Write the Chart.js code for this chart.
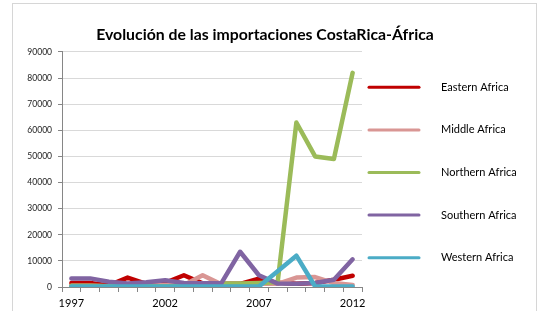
<!DOCTYPE html>
<html>
<head>
<meta charset="utf-8">
<script src="https://cdn.jsdelivr.net/npm/chart.js@4.4.1/dist/chart.umd.min.js"></script>
<style>
  html, body { margin: 0; padding: 0; background: #fff; }
  #wrap { position: relative; width: 544px; height: 311px; overflow: hidden; }
  #frame { position: absolute; left: 12px; top: 3px; width: 523px; height: 330px; border: 1px solid #d6d6d6; }
  #wrap canvas { position: absolute; left: 0; top: 0; }
</style>
</head>
<body>
<div id="wrap">
  <div id="frame"></div>
  <canvas id="chart" width="544" height="311"></canvas>
</div>
<script>
// datos
const years = ['1997', '1998', '1999', '2000', '2001', '2002', '2003', '2004',
               '2005', '2006', '2007', '2008', '2009', '2010', '2011', '2012'];
const easternAfrica  = [1500, 1500, 600, 3600, 1200, 1600, 4500, 1400, 1200, 1200, 3200, 1600, 1200, 1500, 2800, 4300];
const middleAfrica   = [500, 500, 300, 300, 500, 800, 800, 4500, 1000, 1000, 1200, 1200, 3600, 3800, 1500, 800];
const northernAfrica = [500, 500, 300, 300, 300, 300, 300, 300, 1300, 1300, 1500, 1800, 63000, 50000, 49000, 82000];
const southernAfrica = [3300, 3300, 2000, 1300, 1800, 2600, 1500, 1400, 1500, 13500, 4500, 1300, 1200, 1500, 2800, 10600];
const westernAfrica  = [200, 200, 200, 200, 200, 200, 200, 200, 200, 200, 200, 6000, 12000, 200, 200, 200];

const seriesNames = ['Eastern Africa', 'Middle Africa', 'Northern Africa', 'Southern Africa', 'Western Africa'];
const seriesData = [easternAfrica, middleAfrica, northernAfrica, southernAfrica, westernAfrica];
const seriesColors = ['#c00000', '#d99694', '#9bbb59', '#8064a2', '#4bacc6'];

const FONT = 'Lato, "Liberation Sans", sans-serif';

// leyenda a la derecha, como en Excel
const sideLegend = {
    id: 'sideLegend',
    afterDraw(chart) {
        const ctx = chart.ctx;
        const area = chart.chartArea;
        const midY = (area.top + area.bottom) / 2 + 3;
        const step = 42.6;
        const n = chart.data.datasets.length;
        ctx.save();
        ctx.font = '11px ' + FONT;
        ctx.textBaseline = 'middle';
        ctx.fillStyle = '#000';
        chart.data.datasets.forEach((ds, i) => {
            const y = midY + (i - (n - 1) / 2) * step;
            ctx.strokeStyle = ds.borderColor;
            ctx.lineWidth = 3;
            ctx.lineCap = 'round';
            ctx.beginPath();
            ctx.moveTo(area.right + 7, y);
            ctx.lineTo(area.right + 57, y);
            ctx.stroke();
            ctx.fillText(ds.label, area.right + 79, y);
        });
        ctx.restore();
    }
};

const ctx = document.getElementById('chart');
new Chart(ctx, {
    type: 'line',
    data: {
        labels: years,
        datasets: seriesNames.map((name, i) => ({
            label: name,
            data: seriesData[i],
            borderColor: seriesColors[i],
            backgroundColor: seriesColors[i],
            borderWidth: 4.5,
            pointRadius: 0,
            tension: 0,
            borderJoinStyle: 'round',
            borderCapStyle: 'round',
            order: seriesNames.length - i
        }))
    },
    options: {
        responsive: false,
        animation: false,
        devicePixelRatio: 1,
        layout: { padding: { left: 12, right: 26, top: 0, bottom: 0 } },
        scales: {
            x: {
                offset: true,
                grid: { offset: true, drawOnChartArea: false, tickLength: 5, color: '#868686' },
                border: { color: '#868686' },
                ticks: {
                    autoSkip: false,
                    maxRotation: 0,
                    padding: 5,
                    color: '#000',
                    font: { family: FONT, size: 11 },
                    callback: function (value, index) {
                        return index % 5 === 0 ? this.getLabelForValue(value) : '';
                    }
                },
                afterFit: scale => { scale.height = 24; }
            },
            y: {
                min: 0,
                max: 90000,
                ticks: {
                    stepSize: 10000,
                    padding: 6,
                    color: '#222',
                    font: { family: FONT, size: 8.5 },
                    callback: value => String(value)
                },
                grid: { color: '#d9d9d9', tickLength: 4, tickColor: '#868686' },
                border: { color: '#868686' },
                afterFit: scale => { scale.width = 50; }
            },
            legendSpace: {
                type: 'linear',
                position: 'right',
                display: true,
                grid: { display: false },
                border: { display: false },
                ticks: { display: false },
                afterFit: scale => { scale.width = 156; }
            }
        },
        plugins: {
            legend: { display: false },
            tooltip: { enabled: false },
            title: {
                display: true,
                text: 'Evolución de las importaciones CostaRica-África',
                color: '#000',
                font: { family: FONT, size: 15.8, weight: 'bold' },
                padding: { top: 25, bottom: 8 }
            }
        }
    },
    plugins: [sideLegend]
});
</script>
</body>
</html>
